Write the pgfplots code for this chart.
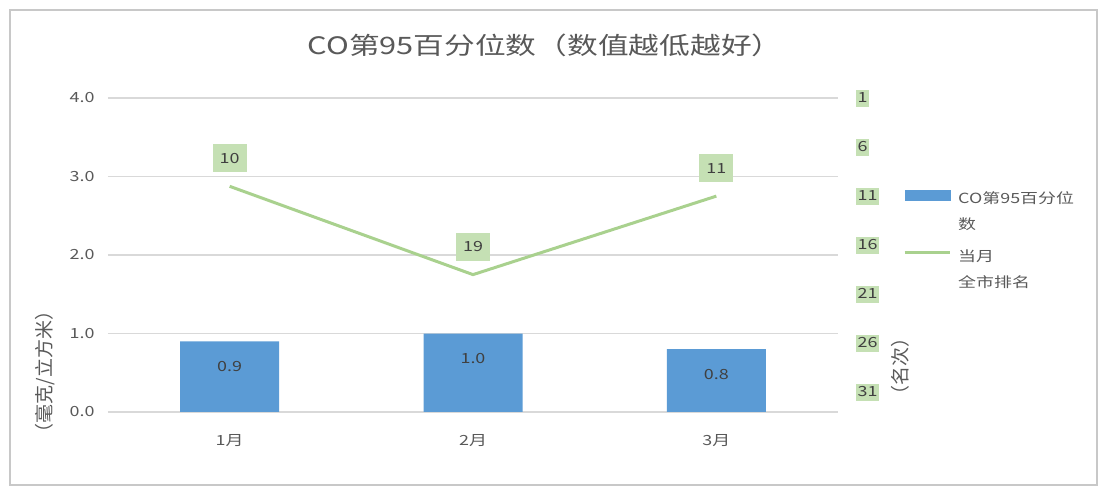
\documentclass[border=0pt]{standalone}
\usepackage{fontspec}
\setmainfont{Noto Sans CJK SC}[FakeStretch=1.28]
\newfontfamily\plaincjk{Noto Sans CJK SC}
\usepackage{pgfplots}
\usepackage{pgfplotstable}
\pgfplotsset{compat=1.18}

\definecolor{barblue}{HTML}{5B9BD5}
\definecolor{rankgreen}{HTML}{A9D18E}
\definecolor{labelgreen}{HTML}{C5E0B4}
\definecolor{gridgray}{HTML}{D9D9D9}
\definecolor{framegray}{HTML}{C8C8C8}
\definecolor{textgray}{HTML}{595959}
\definecolor{darktext}{HTML}{404040}

% month index, CO 95th percentile (mg/m3), city rank
\pgfplotstableread{
x co rank
0 0.9 10
1 1.0 19
2 0.8 11
}\codata

\begin{document}
\begin{tikzpicture}[font=\fontsize{14bp}{26bp}\selectfont]
\pgfplotsset{
  base/.style={
    at={(0,0)}, anchor=south west,
    scale only axis, width=730bp, height=314bp,
    xmin=-0.5, xmax=2.5,
    /pgf/number format/assume math mode=true,
    axis line style={draw=none},
    tick style={draw=none},
  }
}
\begin{axis}[base,
  ymin=0, ymax=4,
  xtick={0,1,2}, xticklabels={1月,2月,3月},
  xticklabel style={anchor=center, yshift=-29bp, text=textgray},
  ytick={0,1,...,4},
  yticklabel style={/pgf/number format/.cd, fixed, fixed zerofill, precision=1,
    /tikz/.cd, anchor=east, xshift=-10bp, text=textgray},
  ymajorgrids, grid style={gridgray, line width=1.3bp},
]
  \addplot[ybar, bar width=99bp, fill=barblue, draw=none,
    nodes near coords={\pgfmathprintnumber[fixed,fixed zerofill,precision=1]{\pgfplotspointmeta}},
    every node near coord/.append style={anchor=center, yshift=-25bp, text=darktext}]
    table[x=x, y=co] {\codata};
\end{axis}
\begin{axis}[base,
  ymin=1, ymax=33, y dir=reverse,
  axis x line=none,
  ytick={1,6,...,31},
  yticklabel pos=right,
  yticklabel style={anchor=west, xshift=18bp, fill=labelgreen, text=darktext,
    inner xsep=1.5bp, inner ysep=3bp, text height=10bp, text depth=1bp},
  legend style={at={(axis description cs:1.085,0.735)}, anchor=north west,
    draw=none, fill=none, text=textgray, row sep=34bp, column sep=5bp,
    nodes={inner sep=2bp}},
  legend cell align=left,
]
  \addlegendimage{area legend, legend image code/.code={\fill[barblue] (0bp,-5bp) rectangle (45bp,5bp);}}
  \addlegendentry{\begin{tabular}[t]{@{}l@{}}CO第95百分位\\数\end{tabular}}
  \addplot[rankgreen, line width=3bp,
    legend image code/.code={\draw[rankgreen, line width=3bp] (0bp,0bp) -- (45bp,0bp);},
    nodes near coords,
    every node near coord/.append style={anchor=center, yshift=28bp, fill=labelgreen,
      text=darktext, inner xsep=7bp, inner ysep=9bp, text height=10bp, text depth=0bp}]
    table[x=x, y=rank] {\codata};
  \addlegendentry{\begin{tabular}[t]{@{}l@{}}当月\\全市排名\end{tabular}}
\end{axis}
\node[text=textgray, font=\fontsize{24bp}{28bp}\selectfont] at (437bp,367bp) {CO第95百分位数（数值越低越好）};
\node[text=textgray, rotate=90, font=\plaincjk\fontsize{19bp}{22bp}\selectfont] at (-63bp,40bp) {（毫克/立方米）};
\node[text=textgray, rotate=90, font=\plaincjk\fontsize{19bp}{22bp}\selectfont] at (792bp,46bp) {（名次）};
\draw[framegray, line width=1.3bp] (-98bp,-73bp) rectangle (989bp,402bp);
\pgfresetboundingbox
\path[use as bounding box] (-108bp,-85bp) rectangle (1001bp,412bp);
\end{tikzpicture}
\end{document}
